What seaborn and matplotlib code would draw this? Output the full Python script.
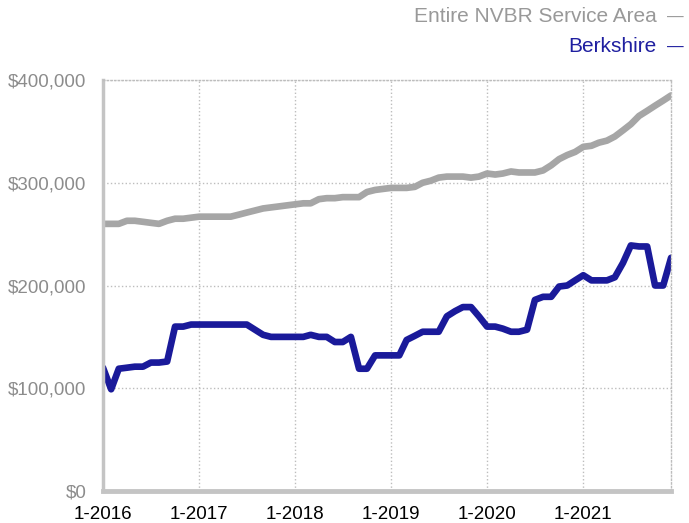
import matplotlib
matplotlib.use("Agg")
import matplotlib.pyplot as plt
import matplotlib.ticker as mticker
import pandas as pd
import seaborn as sns

# Monthly values, Jan 2016 .. Dec 2021, in thousands of dollars
months = pd.date_range("2016-01-01", periods=72, freq="MS")

nvbr_area = [
    260, 260, 260, 263, 263, 262, 261, 260, 263, 265, 265, 266,
    267, 267, 267, 267, 267, 269, 271, 273, 275, 276, 277, 278,
    279, 280, 280, 284, 285, 285, 286, 286, 286, 291, 293, 294,
    295, 295, 295, 296, 300, 302, 305, 306, 306, 306, 305, 306,
    309, 308, 309, 311, 310, 310, 310, 312, 317, 323, 327, 330,
    335, 336, 339, 341, 345, 351, 357, 365, 370, 375, 380, 385,
]
berkshire = [
    120, 99, 119, 120, 121, 121, 125, 125, 126, 160, 160, 162,
    162, 162, 162, 162, 162, 162, 162, 157, 152, 150, 150, 150,
    150, 150, 152, 150, 150, 145, 145, 150, 119, 119, 132, 132,
    132, 132, 147, 151, 155, 155, 155, 170, 175, 179, 179, 170,
    160, 160, 158, 155, 155, 157, 186, 189, 189, 199, 200, 205,
    210, 205, 205, 205, 208, 222, 239, 238, 238, 200, 200, 227,
]

series_names = ["Entire NVBR Service Area", "Berkshire"]
series_colors = ["#a6a6a6", "#1a1a9a"]
tick_years = [2016, 2017, 2018, 2019, 2020, 2021]

df = pd.concat([
    pd.DataFrame({"month": months, "price": [v * 1000 for v in nvbr_area], "area": series_names[0]}),
    pd.DataFrame({"month": months, "price": [v * 1000 for v in berkshire], "area": series_names[1]}),
])

sns.set_style("white")
plt.rcParams["font.family"] = ["Liberation Sans", "DejaVu Sans"]

fig = plt.figure(figsize=(6.89, 5.23), dpi=100)
ax = fig.add_axes([0.1495, 0.0612, 0.8245, 0.7858])

sns.lineplot(
    data=df, x="month", y="price", hue="area",
    palette=dict(zip(series_names, series_colors)),
    linewidth=4.8, legend=False, ax=ax,
)

ax.set_xlim(months[0], months[-1])
ax.set_ylim(0, 400000)
ax.set_xlabel("")
ax.set_ylabel("")

ax.set_xticks([pd.Timestamp(f"{y}-01-01") for y in tick_years])
ax.set_xticklabels([f"1-{y}" for y in tick_years], fontsize=13.5, color="black")
ax.set_yticks([0, 100000, 200000, 300000, 400000])
ax.yaxis.set_major_formatter(mticker.FuncFormatter(lambda v, _: f"${v:,.0f}"))
ax.tick_params(axis="y", length=0, pad=12, labelsize=13.5, labelcolor="#8c8c8c")
ax.tick_params(axis="x", length=4, width=2.5, color="#c4c4c4", pad=7)

ax.grid(True, linestyle=":", color="#bdbdbd", linewidth=1)
for side in ["top", "right"]:
    ax.spines[side].set_visible(True)
    ax.spines[side].set_linestyle(":")
    ax.spines[side].set_color("#bdbdbd")
    ax.spines[side].set_linewidth(1)
ax.spines["left"].set_color("#c4c4c4")
ax.spines["left"].set_linewidth(2.5)
ax.spines["bottom"].set_color("#c4c4c4")
ax.spines["bottom"].set_linewidth(3.5)

# legend drawn as right-aligned text with a short dash
for i, (name, color) in enumerate(zip(series_names, series_colors)):
    txt_color = "#999999" if i == 0 else "#1f1fa0"
    y = 1 - (17 + 30 * i) / 523
    fig.text(657 / 689, y, name, ha="right", va="center", fontsize=15, color=txt_color)
    fig.text(675 / 689, y, "—", ha="center", va="center", fontsize=12, color=txt_color)

fig.savefig("out.png", dpi=100)
